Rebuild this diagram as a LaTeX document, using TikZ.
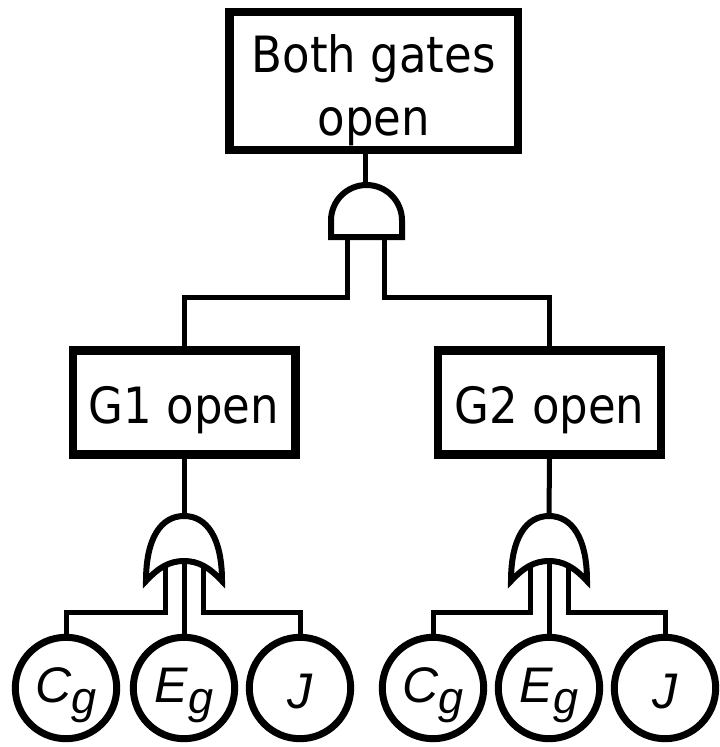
\documentclass[tikz,border=0pt]{standalone}
\usepackage{fontspec}
\newfontfamily\boxfont[FakeStretch=0.9]{DejaVu Sans}
\newfontfamily\circfont{Liberation Sans}
\newcommand{\subg}{\raisebox{-11pt}{\fontsize{45}{45}\selectfont g}}
\tikzset{
  box/.style={draw, rectangle, line width=8.5pt, inner sep=0pt, fill=white,
    font=\boxfont\fontsize{50}{63}\selectfont},
  evt/.style={draw, circle, line width=7pt, minimum size=101.4pt, inner sep=0pt,
    font=\circfont\itshape\fontsize{50}{50}\selectfont},
  wire/.style={line width=5pt},
  gate/.style={line width=6pt, fill=white},
  orgate/.pic={
    \draw[gate] (-38,581) .. controls (-38,538) and (-23,516) .. (0,516)
      .. controls (23,516) and (38,538) .. (38,581)
      .. controls (25,567) and (14,561) .. (0,561)
      .. controls (-14,561) and (-25,567) .. (-38,581) -- cycle;
    \coordinate (-out) at (0,516);
    \coordinate (-l) at (-19,567);
    \coordinate (-c) at (0,561);
    \coordinate (-r) at (19,567);
  }
}
\begin{document}
\begin{tikzpicture}[x=1pt,y=-1pt]
\useasboundingbox (0,0) rectangle (720,747);
% boxes
\node[box, minimum width=288.5pt, minimum height=138pt, text height=0pt, text depth=18pt]
  (top) at (373.75,81) {\parbox[t]{280pt}{\centering Both gates\\open}};
\node[box, minimum width=222.5pt, minimum height=104pt, text height=41pt, text depth=0pt]
  (g1) at (184,402.5) {G1 open};
\node[box, minimum width=223pt, minimum height=104pt, text height=41pt, text depth=0pt]
  (g2) at (549.5,402.5) {G2 open};
% basic events
\node[evt, text height=28pt, text depth=0pt] (cg1) at (66,688) {C\subg};
\node[evt, text height=28pt, text depth=0pt] (eg1) at (184,688) {E\subg};
\node[evt, text height=40pt, text depth=0pt] (j1) at (300,688) {J};
\node[evt, text height=28pt, text depth=0pt] (cg2) at (433,688) {C\subg};
\node[evt, text height=28pt, text depth=0pt] (eg2) at (549,688) {E\subg};
\node[evt, text height=40pt, text depth=0pt] (j2) at (665,688) {J};
% AND gate
\draw[gate] (331,237) -- (331,220.5) .. controls (331,200.9) and (346.9,185) .. (366.5,185)
  .. controls (386.1,185) and (402,200.9) .. (402,220.5) -- (402,237) -- cycle;
\coordinate (andout) at (365,185);
\coordinate (andL) at (347,237);
\coordinate (andR) at (384,237);
\draw[wire] (andout) -- (andout |- top.south);
\draw[wire] (andL) -- ++(0,60) -| (g1.north);
\draw[wire] (andR) -- ++(0,60) -| (g2.north);
% OR gates
\pic (or1) at (184,0) {orgate};
\pic (or2) at (549,0) {orgate};
\draw[wire] (g1.south) -- (or1-out);
\draw[wire] (or1-l) -- ++(0,45) -| (cg1.north);
\draw[wire] (or1-c) -- (eg1.north);
\draw[wire] (or1-r) -- ++(0,45) -| (j1.north);
\draw[wire] (g2.south) -- (or2-out);
\draw[wire] (or2-l) -- ++(0,45) -| (cg2.north);
\draw[wire] (or2-c) -- (eg2.north);
\draw[wire] (or2-r) -- ++(0,45) -| (j2.north);
\end{tikzpicture}
\end{document}
